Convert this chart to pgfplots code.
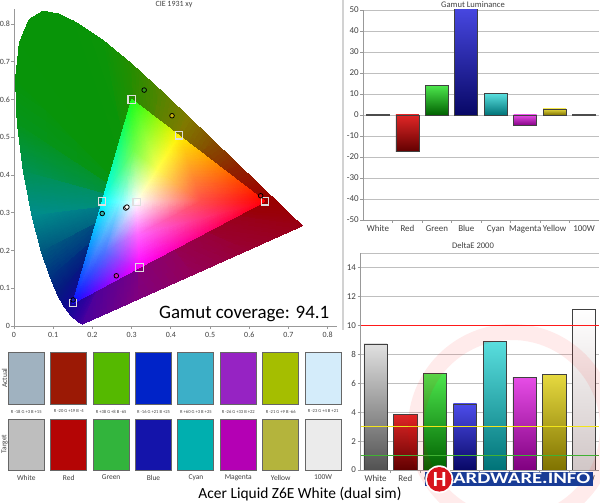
\documentclass[border=0pt]{standalone}
\usepackage{fontspec}
\setmainfont{Carlito}
\usepackage{pgfplots}
\pgfplotsset{compat=1.18}
\usepackage{graphicx}
\definecolor{tickgray}{gray}{0.25}
\definecolor{axgray}{gray}{0.6}
\definecolor{gridgray}{gray}{0.75}
\definecolor{refred}{rgb}{1,0.1,0.1}
\definecolor{refyel}{rgb}{0.95,0.9,0.1}
\definecolor{refgrn}{rgb}{0.25,0.7,0.2}
% bar colours
\definecolor{wT}{gray}{0.88}\definecolor{wB}{gray}{0.32}
\definecolor{rT}{rgb}{0.88,0.15,0.15}\definecolor{rB}{rgb}{0.38,0,0}
\definecolor{gT}{rgb}{0.3,0.9,0.3}\definecolor{gB}{rgb}{0,0.38,0}
\definecolor{bT}{rgb}{0.3,0.3,0.92}\definecolor{bB}{rgb}{0.03,0.03,0.4}
\definecolor{cT}{rgb}{0.35,0.87,0.87}\definecolor{cB}{rgb}{0,0.45,0.47}
\definecolor{mT}{rgb}{0.9,0.3,0.9}\definecolor{mB}{rgb}{0.5,0,0.5}
\definecolor{yT}{rgb}{0.9,0.85,0.25}\definecolor{yB}{rgb}{0.5,0.45,0}
\definecolor{hT}{rgb}{1,1,1}\definecolor{hB}{rgb}{0.82,0.78,0.78}
% swatches
\definecolor{aW}{RGB}{160,178,192}\definecolor{aR}{RGB}{155,25,5}
\definecolor{aG}{RGB}{85,185,0}\definecolor{aB}{RGB}{0,35,200}
\definecolor{aC}{RGB}{60,175,200}\definecolor{aM}{RGB}{150,35,195}
\definecolor{aY}{RGB}{165,190,0}\definecolor{aH}{RGB}{212,236,250}
\definecolor{tW}{RGB}{190,190,190}\definecolor{tR}{RGB}{180,5,5}
\definecolor{tG}{RGB}{50,180,60}\definecolor{tB}{RGB}{20,20,170}
\definecolor{tC}{RGB}{0,175,175}\definecolor{tM}{RGB}{180,0,180}
\definecolor{tY}{RGB}{180,180,60}\definecolor{tH}{RGB}{235,235,235}
\definecolor{logoblue}{RGB}{25,60,150}
\definecolor{logored}{RGB}{215,20,30}
\pgfplotsset{
  barbase/.style={ybar, bar width=0.78, bar shift=0pt, draw=black!75, line width=0.8bp},
  barax/.style={scale only axis, anchor=south west,
    xmin=-0.5, xmax=7.5,
    xtick={0,1,2,3,4,5,6,7}, xticklabels={White,Red,Green,Blue,Cyan,Magenta,Yellow,100W},
    minor xtick={0.5,1.5,2.5,3.5,4.5,5.5,6.5},
    major x tick style={draw=none},
    axis x line*=bottom, axis y line*=left, axis line style={-, axgray, line width=0.8bp},
    ymajorgrids, grid style={gridgray, line width=0.8bp},
    tick align=outside, major tick length=3bp, minor tick length=3bp,
    tick style={axgray, line width=0.8bp},
    ticklabel style={font=\fontsize{9}{10}\selectfont, text=tickgray},
    yticklabel style={inner xsep=1.5bp},
    xticklabel style={yshift=1bp},
    /pgf/number format/assume math mode=true},
}
\begin{document}
\begin{tikzpicture}
\useasboundingbox (0bp,0bp) rectangle (600bp,503bp);
%================ CIE 1931 ================
\begin{axis}[at={(14bp,177bp)}, anchor=south west, scale only axis,
  width=323.5bp, height=317.1bp,
  xmin=0, xmax=0.825, ymin=0, ymax=0.84,
  xtick={0,0.1,0.2,0.3,0.4,0.5,0.6,0.7,0.8},
  ytick={0,0.1,0.2,0.3,0.4,0.5,0.6,0.7,0.8},
  axis x line*=bottom, axis y line*=left, axis line style={-, axgray, line width=0.8bp},
  tick align=outside, major tick length=3bp, tick style={axgray, line width=0.8bp},
  ticklabel style={font=\fontsize{8}{9}\selectfont, text=tickgray},
  yticklabel style={inner xsep=0.8bp},
  /pgf/number format/assume math mode=true]
% spectral locus fan (outside the gamut)
\addplot[patch, patch type=triangle, shader=interp, mesh/color input=explicit,
  point meta=explicit symbolic] table[meta=c] {
x y c
0.3127 0.329 rgb=0.25,0,0.62
0.1741 0.0050 rgb=0.28,0,0.62
0.1644 0.0109 rgb=0.22,0,0.62
0.3127 0.329 rgb=0.2,0,0.62
0.1644 0.0109 rgb=0.22,0,0.62
0.1566 0.0177 rgb=0.18,0,0.62
0.3127 0.329 rgb=0.15,0.01,0.61
0.1566 0.0177 rgb=0.18,0,0.62
0.1440 0.0297 rgb=0.12,0.02,0.6
0.3127 0.329 rgb=0.085,0.035,0.575
0.1440 0.0297 rgb=0.12,0.02,0.6
0.1241 0.0578 rgb=0.05,0.05,0.55
0.3127 0.329 rgb=0.035,0.075,0.525
0.1241 0.0578 rgb=0.05,0.05,0.55
0.1096 0.0868 rgb=0.02,0.1,0.5
0.3127 0.329 rgb=0.01,0.15,0.5
0.1096 0.0868 rgb=0.02,0.1,0.5
0.0913 0.1327 rgb=0,0.2,0.5
0.3127 0.329 rgb=0,0.275,0.5
0.0913 0.1327 rgb=0,0.2,0.5
0.0687 0.2007 rgb=0,0.35,0.5
0.3127 0.329 rgb=0,0.45,0.525
0.0687 0.2007 rgb=0,0.35,0.5
0.0454 0.2950 rgb=0,0.55,0.55
0.3127 0.329 rgb=0,0.56,0.435
0.0454 0.2950 rgb=0,0.55,0.55
0.0235 0.4127 rgb=0,0.57,0.32
0.3127 0.329 rgb=0.01,0.575,0.21
0.0235 0.4127 rgb=0,0.57,0.32
0.0082 0.5384 rgb=0.02,0.58,0.1
0.3127 0.329 rgb=0.025,0.58,0.07
0.0082 0.5384 rgb=0.02,0.58,0.1
0.0039 0.6548 rgb=0.03,0.58,0.04
0.3127 0.329 rgb=0.03,0.58,0.035
0.0039 0.6548 rgb=0.03,0.58,0.04
0.0139 0.7502 rgb=0.03,0.58,0.03
0.3127 0.329 rgb=0.03,0.58,0.03
0.0139 0.7502 rgb=0.03,0.58,0.03
0.0389 0.8120 rgb=0.03,0.58,0.03
0.3127 0.329 rgb=0.03,0.58,0.03
0.0389 0.8120 rgb=0.03,0.58,0.03
0.0743 0.8338 rgb=0.03,0.58,0.03
0.3127 0.329 rgb=0.03,0.58,0.03
0.0743 0.8338 rgb=0.03,0.58,0.03
0.1142 0.8262 rgb=0.03,0.58,0.03
0.3127 0.329 rgb=0.03,0.58,0.03
0.1142 0.8262 rgb=0.03,0.58,0.03
0.1547 0.8059 rgb=0.03,0.58,0.03
0.3127 0.329 rgb=0.04,0.58,0.03
0.1547 0.8059 rgb=0.03,0.58,0.03
0.2296 0.7543 rgb=0.05,0.58,0.03
0.3127 0.329 rgb=0.1,0.565,0.015
0.2296 0.7543 rgb=0.05,0.58,0.03
0.3016 0.6923 rgb=0.15,0.55,0
0.3127 0.329 rgb=0.235,0.535,0
0.3016 0.6923 rgb=0.15,0.55,0
0.3731 0.6245 rgb=0.32,0.52,0
0.3127 0.329 rgb=0.41,0.5,0
0.3731 0.6245 rgb=0.32,0.52,0
0.4441 0.5547 rgb=0.5,0.48,0
0.3127 0.329 rgb=0.51,0.39,0
0.4441 0.5547 rgb=0.5,0.48,0
0.5125 0.4866 rgb=0.52,0.3,0
0.3127 0.329 rgb=0.54,0.22,0
0.5125 0.4866 rgb=0.52,0.3,0
0.5752 0.4242 rgb=0.56,0.14,0
0.3127 0.329 rgb=0.58,0.095,0
0.5752 0.4242 rgb=0.56,0.14,0
0.6270 0.3725 rgb=0.6,0.05,0
0.3127 0.329 rgb=0.6,0.025,0
0.6270 0.3725 rgb=0.6,0.05,0
0.6658 0.3340 rgb=0.6,0,0
0.3127 0.329 rgb=0.6,0,0.01
0.6658 0.3340 rgb=0.6,0,0
0.6915 0.3083 rgb=0.6,0,0.02
0.3127 0.329 rgb=0.6,0,0.035
0.6915 0.3083 rgb=0.6,0,0.02
0.7190 0.2809 rgb=0.6,0,0.05
0.3127 0.329 rgb=0.6,0,0.065
0.7190 0.2809 rgb=0.6,0,0.05
0.7347 0.2653 rgb=0.6,0,0.08
0.3127 0.329 rgb=0.6,0,0.14
0.7347 0.2653 rgb=0.6,0,0.08
0.5946 0.2002 rgb=0.6,0,0.2
0.3127 0.329 rgb=0.59,0,0.275
0.5946 0.2002 rgb=0.6,0,0.2
0.4544 0.1352 rgb=0.58,0,0.35
0.3127 0.329 rgb=0.54,0,0.425
0.4544 0.1352 rgb=0.58,0,0.35
0.3143 0.0701 rgb=0.5,0,0.5
0.3127 0.329 rgb=0.39,0,0.56
0.3143 0.0701 rgb=0.5,0,0.5
0.1741 0.0050 rgb=0.28,0,0.62
};
% gamut triangle
\addplot[patch, patch type=triangle, shader=interp, mesh/color input=explicit,
  point meta=explicit symbolic] table[meta=c] {
x y c
0.3127 0.329 rgb=1,1,1
0.4764 0.3295 rgb=1,0.3,0.3
0.3664 0.417 rgb=1,1,0.3
0.3127 0.329 rgb=1,1,1
0.3664 0.417 rgb=1,1,0.3
0.3064 0.4645 rgb=0.45,1,0.3
0.3127 0.329 rgb=1,1,1
0.3064 0.4645 rgb=0.45,1,0.3
0.2689 0.3295 rgb=0.45,1,1
0.3127 0.329 rgb=1,1,1
0.2689 0.3295 rgb=0.45,1,1
0.2314 0.1945 rgb=0.3,0.45,1
0.3127 0.329 rgb=1,1,1
0.2314 0.1945 rgb=0.3,0.45,1
0.3164 0.242 rgb=1,0.4,1
0.3127 0.329 rgb=1,1,1
0.3164 0.242 rgb=1,0.4,1
0.4764 0.3295 rgb=1,0.3,0.3
0.4764 0.3295 rgb=1,0.3,0.3
0.64 0.33 rgb=1,0,0
0.42 0.505 rgb=1,0.95,0
0.4764 0.3295 rgb=1,0.3,0.3
0.42 0.505 rgb=1,0.95,0
0.3664 0.417 rgb=1,1,0.3
0.3664 0.417 rgb=1,1,0.3
0.42 0.505 rgb=1,0.95,0
0.30 0.60 rgb=0.1,1,0.1
0.3664 0.417 rgb=1,1,0.3
0.30 0.60 rgb=0.1,1,0.1
0.3064 0.4645 rgb=0.45,1,0.3
0.3064 0.4645 rgb=0.45,1,0.3
0.30 0.60 rgb=0.1,1,0.1
0.225 0.33 rgb=0,1,1
0.3064 0.4645 rgb=0.45,1,0.3
0.225 0.33 rgb=0,1,1
0.2689 0.3295 rgb=0.45,1,1
0.2689 0.3295 rgb=0.45,1,1
0.225 0.33 rgb=0,1,1
0.15 0.06 rgb=0.05,0.05,1
0.2689 0.3295 rgb=0.45,1,1
0.15 0.06 rgb=0.05,0.05,1
0.2314 0.1945 rgb=0.3,0.45,1
0.2314 0.1945 rgb=0.3,0.45,1
0.15 0.06 rgb=0.05,0.05,1
0.32 0.155 rgb=1,0,1
0.2314 0.1945 rgb=0.3,0.45,1
0.32 0.155 rgb=1,0,1
0.3164 0.242 rgb=1,0.4,1
0.3164 0.242 rgb=1,0.4,1
0.32 0.155 rgb=1,0,1
0.64 0.33 rgb=1,0,0
0.3164 0.242 rgb=1,0.4,1
0.64 0.33 rgb=1,0,0
0.4764 0.3295 rgb=1,0.3,0.3
};
% targets
\addplot[only marks, mark=square, mark size=3.6bp,
  mark options={draw=gray!25, line width=1.1bp}] coordinates {
(0.30,0.60) (0.42,0.505) (0.64,0.33) (0.225,0.33) (0.3127,0.329) (0.32,0.155) (0.15,0.06)};
% measured
\addplot[only marks, mark=*, mark size=2.3bp, mark options={draw=black, fill={rgb,1:red,0.2;green,0.6;blue,0.1}, line width=0.8bp}] coordinates {(0.332,0.625)};
\addplot[only marks, mark=*, mark size=2.3bp, mark options={draw=black, fill={rgb,1:red,0.78;green,0.7;blue,0.05}, line width=0.8bp}] coordinates {(0.403,0.557)};
\addplot[only marks, mark=*, mark size=2.3bp, mark options={draw=black, fill={rgb,1:red,0.8;green,0.05;blue,0.05}, line width=0.8bp}] coordinates {(0.629,0.345)};
\addplot[only marks, mark=*, mark size=2.3bp, mark options={draw=black, fill=white, line width=0.8bp}] coordinates {(0.285,0.3126)};
\addplot[only marks, mark=*, mark size=2.3bp, mark options={draw=black, fill=white, line width=0.8bp}] coordinates {(0.288,0.315)};
\addplot[only marks, mark=*, mark size=2.3bp, mark options={draw=black, fill={rgb,1:red,0.2;green,0.72;blue,0.7}, line width=0.8bp}] coordinates {(0.225,0.298)};
\addplot[only marks, mark=*, mark size=2.3bp, mark options={draw=black, fill={rgb,1:red,0.85;green,0.1;blue,0.75}, line width=0.8bp}] coordinates {(0.261,0.133)};
\addplot[only marks, mark=*, mark size=2.3bp, mark options={draw=black, fill={rgb,1:red,0.1;green,0.1;blue,0.7}, line width=0.8bp}] coordinates {(0.151,0.069)};
\end{axis}
%================ Gamut Luminance ================
\begin{axis}[barax, at={(363.3bp,283bp)}, width=235.5bp, height=210bp,
  ymin=-50, ymax=50, ytick={-50,-40,-30,-20,-10,0,10,20,30,40,50}]
\addplot[barbase, fill=gray!60!black, draw=gray!60!black] coordinates {(0,0.3)};
\addplot[barbase, top color=rT, bottom color=rB] coordinates {(1,-17.5)};
\addplot[barbase, top color=gT, bottom color=gB] coordinates {(2,14.0)};
\addplot[barbase, top color=bT, bottom color=bB] coordinates {(3,55)};
\addplot[barbase, top color=cT, bottom color=cB] coordinates {(4,10.2)};
\addplot[barbase, top color=mT, bottom color=mB] coordinates {(5,-5.1)};
\addplot[barbase, top color=yT, bottom color=yB] coordinates {(6,2.9)};
\addplot[barbase, fill=gray!60!black, draw=gray!60!black] coordinates {(7,0.3)};
\end{axis}
%================ DeltaE 2000 ================
\begin{axis}[barax, at={(360.7bp,33bp)}, width=238.3bp, height=216.8bp,
  ymin=0, ymax=15, ytick={0,2,4,6,8,10,12,14}]
\addplot[draw=gridgray, line width=0.8bp, forget plot] coordinates {(-0.5,15) (7.5,15)};
\addplot[barbase, top color=wT, bottom color=wB] coordinates {(0,8.72)};
\addplot[barbase, top color=rT, bottom color=rB] coordinates {(1,3.87)};
\addplot[barbase, top color=gT, bottom color=gB] coordinates {(2,6.69)};
\addplot[barbase, top color=bT, bottom color=bB] coordinates {(3,4.57)};
\addplot[barbase, top color=cT, bottom color=cB] coordinates {(4,8.88)};
\addplot[barbase, top color=mT, bottom color=mB] coordinates {(5,6.39)};
\addplot[barbase, top color=yT, bottom color=yB] coordinates {(6,6.6)};
\addplot[barbase, top color=hT, bottom color=hB] coordinates {(7,11.12)};
\end{axis}
% DeltaE reference lines, drawn as thin filled bands on top of the bars
\begin{axis}[at={(360.7bp,33bp)}, anchor=south west, scale only axis,
  width=238.3bp, height=216.8bp, xmin=-0.5, xmax=7.5, ymin=0, ymax=15, hide axis]
\addplot[fill=refred, draw=none] coordinates {(-0.5,9.95) (7.5,9.95) (7.5,10.05) (-0.5,10.05)} -- cycle;
\addplot[fill=refyel, draw=none] coordinates {(-0.5,2.95) (7.5,2.95) (7.5,3.05) (-0.5,3.05)} -- cycle;
\addplot[fill=refgrn, draw=none] coordinates {(-0.5,0.95) (7.5,0.95) (7.5,1.05) (-0.5,1.05)} -- cycle;
\end{axis}
%================ overlay (pixel coordinates) ================
\begin{axis}[at={(0bp,0bp)}, anchor=south west, scale only axis, width=600bp, height=503bp,
  xmin=0, xmax=600, ymin=0, ymax=503, y dir=reverse, hide axis, clip=false]
\addplot[draw=gray!35, line width=1.2bp] coordinates {(343,0) (343,330)};
% actual swatches
\addplot[fill=aW, draw=black!60, line width=1bp] coordinates {(8.3,352.3)(44.3,352.3)(44.3,404.3)(8.3,404.3)} -- cycle;
\addplot[fill=aR, draw=black!60, line width=1bp] coordinates {(50.7,352.3)(86.7,352.3)(86.7,404.3)(50.7,404.3)} -- cycle;
\addplot[fill=aG, draw=black!60, line width=1bp] coordinates {(93.1,352.3)(129.1,352.3)(129.1,404.3)(93.1,404.3)} -- cycle;
\addplot[fill=aB, draw=black!60, line width=1bp] coordinates {(135.5,352.3)(171.5,352.3)(171.5,404.3)(135.5,404.3)} -- cycle;
\addplot[fill=aC, draw=black!60, line width=1bp] coordinates {(177.9,352.3)(213.9,352.3)(213.9,404.3)(177.9,404.3)} -- cycle;
\addplot[fill=aM, draw=black!60, line width=1bp] coordinates {(220.3,352.3)(256.3,352.3)(256.3,404.3)(220.3,404.3)} -- cycle;
\addplot[fill=aY, draw=black!60, line width=1bp] coordinates {(262.7,352.3)(298.7,352.3)(298.7,404.3)(262.7,404.3)} -- cycle;
\addplot[fill=aH, draw=black!60, line width=1bp] coordinates {(305.1,352.3)(341.1,352.3)(341.1,404.3)(305.1,404.3)} -- cycle;
% target swatches
\addplot[fill=tW, draw=black!60, line width=1bp] coordinates {(8.3,419)(44.3,419)(44.3,470)(8.3,470)} -- cycle;
\addplot[fill=tR, draw=black!60, line width=1bp] coordinates {(50.7,419)(86.7,419)(86.7,470)(50.7,470)} -- cycle;
\addplot[fill=tG, draw=black!60, line width=1bp] coordinates {(93.1,419)(129.1,419)(129.1,470)(93.1,470)} -- cycle;
\addplot[fill=tB, draw=black!60, line width=1bp] coordinates {(135.5,419)(171.5,419)(171.5,470)(135.5,470)} -- cycle;
\addplot[fill=tC, draw=black!60, line width=1bp] coordinates {(177.9,419)(213.9,419)(213.9,470)(177.9,470)} -- cycle;
\addplot[fill=tM, draw=black!60, line width=1bp] coordinates {(220.3,419)(256.3,419)(256.3,470)(220.3,470)} -- cycle;
\addplot[fill=tY, draw=black!60, line width=1bp] coordinates {(262.7,419)(298.7,419)(298.7,470)(262.7,470)} -- cycle;
\addplot[fill=tH, draw=black!60, line width=1bp] coordinates {(305.1,419)(341.1,419)(341.1,470)(305.1,470)} -- cycle;
% swatch texts
\begin{scope}[every node/.style={font=\fontsize{7.5}{8}\selectfont, text=tickgray, inner sep=0pt}]
\node at (26.3,477.5) {White};
\node at (68.7,477.5) {Red};
\node at (111.1,477.5) {Green};
\node at (153.5,477.5) {Blue};
\node at (195.9,477.5) {Cyan};
\node at (238.3,477.5) {Magenta};
\node at (280.7,477.5) {Yellow};
\node at (323.1,477.5) {100W};
\node[rotate=90] at (4.5,378) {Actual};
\node[rotate=90] at (4.5,444) {Target};
\end{scope}
\begin{scope}[every node/.style={font=\fontsize{4.6}{5}\selectfont, text=tickgray, inner sep=0pt}]
\node at (26.3,411.5) {R -18 G +3 B +15};
\node at (68.7,411.5) {R -20 G +19 B -4};
\node at (111.1,411.5) {R +38 G +8 B -65};
\node at (153.5,411.5) {R -16 G +21 B +25};
\node at (195.9,411.5) {R +60 G +3 B +25};
\node at (238.3,411.5) {R -26 G +33 B +22};
\node at (280.7,411.5) {R -21 G +9 B -66};
\node at (323.1,411.5) {R -23 G +4 B +21};
\end{scope}
% titles
\node[font=\fontsize{8}{9}\selectfont, text=tickgray] at (174,4.5) {CIE 1931 xy};
\node[font=\fontsize{8.6}{9}\selectfont, text=tickgray] at (473,4.5) {Gamut Luminance};
\node[font=\fontsize{8.6}{9}\selectfont, text=tickgray] at (473,246) {DeltaE 2000};
\node[font=\fontsize{19}{20}\selectfont, anchor=base west, inner sep=0pt] at (159,318) {Gamut coverage: 94.1};
\node[font=\fontsize{15.5}{16}\selectfont, anchor=base, inner sep=0pt] at (300,498) {Acer Liquid Z6E White (dual sim)};
% watermark
\draw[red, opacity=0.08, line width=16bp] (512,428) circle[radius=96];
% logo
\fill[logoblue] (425,471.5) rectangle (593,485.5);
\node[text=white, inner sep=0pt, anchor=west] at (453,478.5) {\resizebox{137bp}{10.5bp}{\bfseries ARDWARE.INFO}};
\fill[white] (439.3,479.3) circle[radius=14];
\fill[logored] (439.3,479.3) circle[radius=12.3];
\node[text=white, inner sep=0pt] at (439.8,479.3) {\resizebox{!}{14bp}{\bfseries H}};
\end{axis}
\end{tikzpicture}
\end{document}
